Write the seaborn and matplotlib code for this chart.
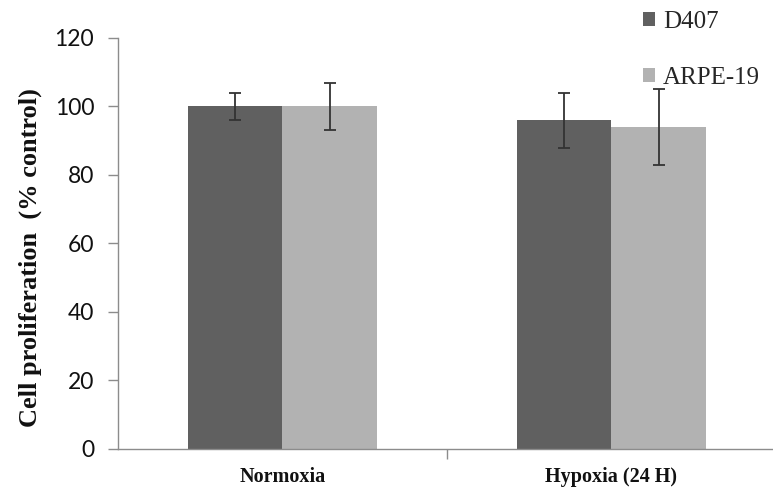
import matplotlib
matplotlib.use("Agg")
import matplotlib.pyplot as plt
import seaborn as sns
import pandas as pd

conditions = ["Normoxia", "Hypoxia (24 H)"]
cell_lines = ["D407", "ARPE-19"]
d407_mean = [100, 96]
d407_err = [4, 8]
arpe_mean = [100, 94]
arpe_err = [7, 11]
y_ticks = [0, 20, 40, 60, 80, 100, 120]

df = pd.DataFrame({
    "condition": conditions * 2,
    "line": [cell_lines[0]] * 2 + [cell_lines[1]] * 2,
    "value": d407_mean + arpe_mean,
    "err": d407_err + arpe_err,
})

sns.set_theme(style="white")
plt.rcParams["font.family"] = ["Lato", "DejaVu Sans"]
serif = ["Liberation Serif", "DejaVu Serif"]

fig = plt.figure(figsize=(7.73, 4.96), dpi=100)
ax = fig.add_axes([0.1527, 0.0948, 0.851, 0.8286])

palette = {"D407": "#606060", "ARPE-19": "#b2b2b2"}
sns.barplot(data=df, x="condition", y="value", hue="line", order=conditions,
            hue_order=cell_lines, palette=palette, width=0.575, gap=0,
            errorbar=None, saturation=1, ax=ax, linewidth=0)

# error bars at the centre of each drawn bar
bars = [p for p in ax.patches if p.get_height() > 0]
for bar in bars:
    cx = bar.get_x() + bar.get_width() / 2
    cond = conditions[int(round(cx))]
    line = cell_lines[0] if cx < round(cx) else cell_lines[1]
    row = df[(df.condition == cond) & (df.line == line)].iloc[0]
    ax.errorbar(cx, row.value, yerr=row.err, fmt="none", ecolor="#333333",
                elinewidth=1.3, capsize=4, capthick=1.3, zorder=5)

ax.set_xlim(-0.5, 1.5)
ax.set_ylim(0, 120)
ax.set_yticks(y_ticks)
ax.set_yticklabels([str(t) for t in y_ticks], fontsize=16.5, color="#111111")

for s in ["top", "right"]:
    ax.spines[s].set_visible(False)
for s in ["left", "bottom"]:
    ax.spines[s].set_color("#8c8c8c")
    ax.spines[s].set_linewidth(1.0)

ax.tick_params(axis="y", which="major", direction="out", length=7.2, width=1.0,
               color="#8c8c8c", left=True, pad=10)
ax.set_xticks([0, 1])
ax.set_xticklabels(conditions, fontsize=14.5, fontweight="bold",
                   family=serif, color="#111111")
ax.tick_params(axis="x", which="major", length=0, pad=13)
ax.set_xticks([0.5], minor=True)
ax.tick_params(axis="x", which="minor", direction="out", length=7, width=1.0,
               color="#8c8c8c", bottom=True)

ax.set_xlabel("")
ax.set_ylabel("Cell proliferation  (% control)", fontsize=19, fontweight="bold",
              family=serif, color="#111111")
ax.yaxis.set_label_coords(-0.115, 0.465)

handles, labels = ax.get_legend_handles_labels()
ax.legend(handles, labels, loc="upper left", bbox_to_anchor=(0.832, 0.978),
          bbox_transform=fig.transFigure, frameon=False, borderpad=0,
          borderaxespad=0, handlelength=0.48, handleheight=0.48,
          handletextpad=0.32, labelspacing=1.35,
          prop={"family": serif, "size": 18})

fig.savefig("out.png", dpi=100)
